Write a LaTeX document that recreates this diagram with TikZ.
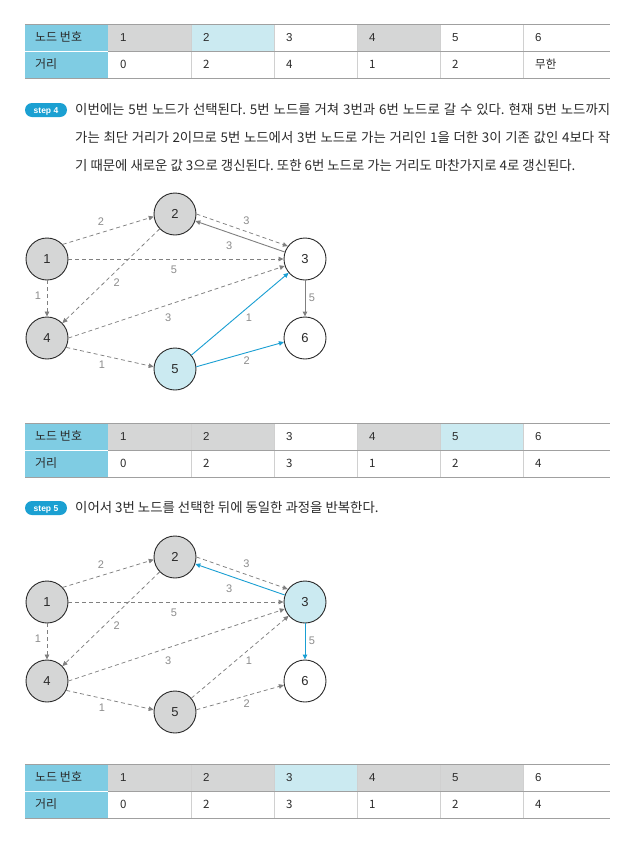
\documentclass[tikz,border=0pt]{standalone}
\usepackage{fontspec}
\setmainfont{Liberation Sans}
\newfontfamily\kr{Noto Sans CJK KR}
\usetikzlibrary{arrows.meta}
\frenchspacing

\definecolor{vgray}{HTML}{D5D6D6}
\definecolor{lblue}{HTML}{CBEAF1}
\definecolor{hdrblue}{HTML}{7FCCE3}
\definecolor{eblue}{HTML}{1A9FD3}
\definecolor{egray}{HTML}{808080}
\definecolor{lgray}{HTML}{8C8C8C}
\definecolor{pillblue}{HTML}{1BA0D2}
\definecolor{ink}{HTML}{2B2B2B}
\definecolor{hrule}{HTML}{A0A0A0}
\definecolor{vrule}{HTML}{D0D0D0}

\tikzset{
  vtx/.style={circle, draw=ink, line width=0.9pt, minimum size=42pt, inner sep=0pt,
    text=ink, font=\fontsize{13}{13}\selectfont},
  lbl/.style={text=lgray, inner sep=0pt, font=\fontsize{11}{11}\selectfont},
  tip/.style={-{Triangle[length=5pt,width=4.5pt]}},
  dsh/.style={tip, draw=egray, line width=0.75pt, dash pattern=on 4pt off 3pt},
  sld/.style={tip, draw=egray, line width=0.9pt},
  blu/.style={tip, draw=eblue, line width=0.9pt},
  pill/.style={fill=pillblue, rounded corners=7pt, minimum width=42pt, minimum height=14pt,
    inner sep=0pt, text height=6.3pt, text depth=0.3pt, text=white,
    font=\bfseries\fontsize{8.5}{8.5}\selectfont},
  body/.style={anchor=base west, inner sep=0pt, text=ink, font=\kr\fontsize{13.4}{13.4}\selectfont},
  hdr/.style={anchor=base west, inner sep=0pt, text=ink, font=\kr\fontsize{12}{12}\selectfont},
  cell/.style={anchor=base west, inner sep=0pt, text=ink, font=\fontsize{11.5}{11.5}\selectfont},
}

% distance table: #1 top edge, #2 name prefix, #3 list of number/fill/distance
\newcommand{\disttable}[3]{%
  \fill[hdrblue] (25,#1) rectangle (108,#1+54);
  \foreach \c/\f/\d [count=\i] in {#3} {
    \fill[\f] ({108+83*(\i-1)},#1) rectangle ({108+83*\i},#1+27);
    \node[cell] (#2n\c) at ({108+83*(\i-1)+12},#1+17.7) {\c};
    \node[cell] (#2d\c) at ({108+83*(\i-1)+12},#1+44.7) {\kr\d};
  }
  \foreach \i in {1,...,5}
    \draw[vrule, line width=0.8pt] ({108+83*\i},#1) -- ({108+83*\i},#1+54);
  \draw[white, line width=0.8pt] (25,#1+27) -- (108,#1+27);
  \draw[hrule, line width=0.9pt] (108,#1+27) -- (610,#1+27);
  \draw[hrule, line width=0.9pt] (25,#1) -- (610,#1);
  \draw[hrule, line width=0.9pt] (25,#1+54) -- (610,#1+54);
  \node[hdr] (#2hn) at (35,#1+17.9) {노드 번호};
  \node[hdr] (#2hd) at (35,#1+44.9) {거리};
}

% shortest-path graph: #1 vertical offset, #2 name prefix, #3 fill of 3, #4 fill of 5,
% #5 style 3->2, #6 style 3->6, #7 style 5->3, #8 style 5->6
\newcommand{\stepgraph}[8]{%
  \begin{scope}[shift={(0,#1)}]
    \node[vtx, fill=vgray] (#2-1) at (47,259) {1};
    \node[vtx, fill=vgray] (#2-2) at (175,214) {2};
    \node[vtx, fill=#3] (#2-3) at (305,259) {3};
    \node[vtx, fill=vgray] (#2-4) at (47,338) {4};
    \node[vtx, fill=#4] (#2-5) at (175,369) {5};
    \node[vtx, fill=white] (#2-6) at (305,338) {6};
    \draw[dsh] (#2-1.43) -- node[lbl, pos=.454, shift={(-3,-10)}] {2} (#2-2.187);
    \draw[dsh] (#2-2.0) -- node[lbl, pos=.513, shift={(3,-9.4)}] {3} (#2-3.143);
    \draw[#5] (#2-3) -- node[lbl, pos=.577, shift={(-4,12)}] {3} (#2-2);
    \draw[dsh] (#2-1) -- node[lbl, pos=.49, shift={(0,11)}] {5} (#2-3);
    \draw[dsh] (#2-2) -- node[lbl, pos=.504, shift={(6,6.3)}] {2} (#2-4);
    \draw[dsh] (#2-1) -- node[lbl, pos=.43, shift={(-9,0)}] {1} (#2-4);
    \draw[#6] (#2-3) -- node[lbl, pos=.49, shift={(7,0)}] {5} (#2-6);
    \draw[dsh] (#2-4.0) -- node[lbl, pos=.443, shift={(4,11.7)}] {3} (#2-3.199);
    \draw[#7] (#2-5) -- node[lbl, pos=.535, shift={(5.6,6.6)}] {1} (#2-3);
    \draw[dsh] (#2-4.-26) -- node[lbl, pos=.43, shift={(-2,9.4)}] {1} (#2-5.174);
    \draw[#8] (#2-5.6) -- node[lbl, pos=.549, shift={(2.2,7.8)}] {2} (#2-6.191);
  \end{scope}}

\begin{document}
\begin{tikzpicture}[x=1pt, y=-1pt]
  \useasboundingbox[fill=white] (0,0) rectangle (636,841);

  % table before step 4
  \disttable{24}{ta}{1/vgray/0, 2/lblue/2, 3/white/4, 4/vgray/1, 5/white/2, 6/white/무한}

  % step 4 text
  \node[pill] (s4) at (46,110) {step 4};
  \node[body] (p1) at (75,114) {\makebox[535pt][s]{이번에는 5번 노드가 선택된다. 5번 노드를 거쳐 3번과 6번 노드로 갈 수 있다. 현재 5번 노드까지}};
  \node[body] (p2) at (75,142) {\makebox[535pt][s]{가는 최단 거리가 2이므로 5번 노드에서 3번 노드로 가는 거리인 1을 더한 3이 기존 값인 4보다 작}};
  \node[body] (p3) at (75,170) {기 때문에 새로운 값 3으로 갱신된다. 또한 6번 노드로 가는 거리도 마찬가지로 4로 갱신된다.};

  % graph after step 4
  \stepgraph{0}{ga}{white}{lblue}{sld}{sld}{blu}{blu}

  % table after step 4
  \disttable{423}{tb}{1/vgray/0, 2/vgray/2, 3/white/3, 4/vgray/1, 5/lblue/2, 6/white/4}

  % step 5 text
  \node[pill] (s5) at (46,508) {step 5};
  \node[body] (q1) at (75,512.5) {이어서 3번 노드를 선택한 뒤에 동일한 과정을 반복한다.};

  % graph after step 5
  \stepgraph{343}{gb}{lblue}{vgray}{blu}{blu}{dsh}{dsh}

  % table after step 5
  \disttable{764}{tc}{1/vgray/0, 2/vgray/2, 3/lblue/3, 4/vgray/1, 5/vgray/2, 6/white/4}
\end{tikzpicture}
\end{document}
